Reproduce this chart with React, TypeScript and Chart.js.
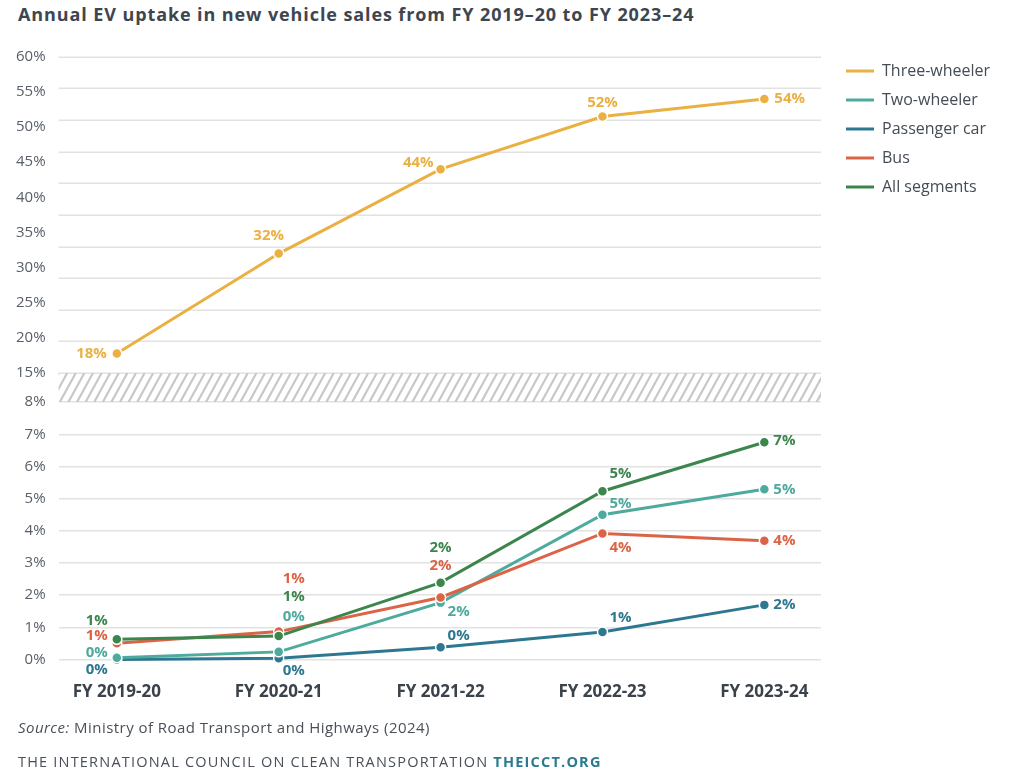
import React, { useEffect, useRef } from 'react';
import { Chart, registerables } from 'chart.js';

Chart.register(...registerables);

// ---------- data ----------
const categories = ['FY 2019-20', 'FY 2020-21', 'FY 2021-22', 'FY 2022-23', 'FY 2023-24'];
const seriesNames = ['Three-wheeler', 'Two-wheeler', 'Passenger car', 'Bus', 'All segments'];
const threeWheeler = [17.8, 32.0, 44.0, 51.5, 54.0];
const twoWheeler = [0.06, 0.24, 1.77, 4.5, 5.29];
const passengerCar = [0.0, 0.04, 0.38, 0.86, 1.7];
const bus = [0.51, 0.87, 1.93, 3.92, 3.69];
const allSegments = [0.63, 0.73, 2.39, 5.23, 6.75];
const upperTickValues = [15, 20, 25, 30, 35, 40, 45, 50, 55, 60];
const lowerTickValues = [0, 1, 2, 3, 4, 5, 6, 7, 8];

// ---------- styles ----------
const FONT = '"Open Sans", "DejaVu Sans", sans-serif';
const colors = ['#EAB042', '#4DAA9C', '#2D7890', '#DC6446', '#3C864E'];
const drawOrder = [5, 3, 4, 2, 1];
const GRID = '#e2e2e2';
const AXIS_TEXT = '#596069';
const UPPER_GRID_INTERVALS = 10;

// label placement per series per point: [dx, dy, align]
type Place = [number, number, CanvasTextAlign];
const placements: Place[][] = [
  [[-10, 0, 'right'], [-10, -18, 'center'], [-7, -6, 'right'], [0, -14, 'center'], [10, 0, 'left']],
  [[-9, -5, 'right'], [4, -35, 'left'], [7, 9, 'left'], [7, -11, 'left'], [9, 0, 'left']],
  [[-9, 10, 'right'], [4, 12, 'left'], [7, -12, 'left'], [7, -14, 'left'], [9, 0, 'left']],
  [[-9, -7, 'right'], [4, -53, 'left'], [0, -32, 'center'], [7, 14, 'left'], [9, 0, 'left']],
  [[-9, -19, 'right'], [4, -39, 'left'], [0, -35, 'center'], [7, -18, 'left'], [9, -2, 'left']],
];

const bandPlugin = {
  id: 'bandPlugin',
  beforeDatasetsDraw(chart: any) {
    const { ctx, chartArea, scales } = chart;
    const top = scales.yTop;
    const gap = scales.yGap;
    ctx.save();
    // upper panel grid lines
    ctx.strokeStyle = GRID;
    ctx.lineWidth = 1.5;
    const min = top.min;
    const max = top.max;
    for (let k = 0; k <= UPPER_GRID_INTERVALS; k++) {
      const v = min + ((max - min) * k) / UPPER_GRID_INTERVALS;
      const y = Math.round(top.getPixelForValue(v)) + 0.25;
      ctx.beginPath();
      ctx.moveTo(chartArea.left, y);
      ctx.lineTo(chartArea.right, y);
      ctx.stroke();
    }
    // hatched break band
    const y0 = gap.top;
    const y1 = gap.bottom;
    ctx.beginPath();
    ctx.rect(chartArea.left, y0, chartArea.right - chartArea.left, y1 - y0);
    ctx.clip();
    ctx.strokeStyle = '#c8c8c8';
    ctx.lineWidth = 2.2;
    const run = (y1 - y0) * 0.55;
    ctx.beginPath();
    for (let x = chartArea.left - run; x < chartArea.right + run; x += 8.6) {
      ctx.moveTo(x, y1);
      ctx.lineTo(x + run, y0);
    }
    ctx.stroke();
    ctx.restore();
  },
};

const labelPlugin = {
  id: 'labelPlugin',
  afterDatasetsDraw(chart: any) {
    const { ctx } = chart;
    ctx.save();
    ctx.font = `bold 15px ${FONT}`;
    ctx.textBaseline = 'middle';
    chart.data.datasets.forEach((ds: any, di: number) => {
      const meta = chart.getDatasetMeta(di);
      meta.data.forEach((pt: any, i: number) => {
        const [dx, dy, align] = placements[di][i];
        const v = ds.data[i].y;
        ctx.fillStyle = ds.borderColor;
        ctx.textAlign = align;
        ctx.fillText(`${Math.round(v)}%`, pt.x + dx, pt.y + dy);
      });
    });
    ctx.restore();
  },
};

export default function App() {
  const ref = useRef<HTMLCanvasElement | null>(null);

  useEffect(() => {
    if (!ref.current) return;
    const series = [threeWheeler, twoWheeler, passengerCar, bus, allSegments];
    const datasets = series.map((vals, si) => ({
      label: seriesNames[si],
      data: vals.map((y, i) => ({ x: i, y })),
      xAxisID: 'x',
      yAxisID: si === 0 ? 'yTop' : 'yBot',
      borderColor: colors[si],
      backgroundColor: colors[si],
      pointBackgroundColor: colors[si],
      pointBorderColor: '#ffffff',
      pointBorderWidth: 1.5,
      pointRadius: 5,
      borderWidth: 3,
      tension: 0,
      clip: false as const,
      order: drawOrder[si],
    }));

    const chart = new Chart(ref.current, {
      type: 'line',
      data: { datasets },
      plugins: [bandPlugin, labelPlugin],
      options: {
        animation: false,
        responsive: true,
        maintainAspectRatio: false,
        layout: { padding: { top: 50, left: 3, right: 25, bottom: 57 } },
        plugins: {
          tooltip: { enabled: false },
          title: { display: true, text: '', padding: 0, font: { size: 6.7, lineHeight: 1 } },
          legend: {
            position: 'right',
            align: 'start',
            labels: {
              boxWidth: 28,
              boxHeight: 3,
              padding: 13,
              color: '#444c55',
              font: { size: 16, family: FONT },
              generateLabels: (c: any) =>
                c.data.datasets.map((ds: any, i: number) => ({
                  text: ds.label,
                  fillStyle: ds.borderColor,
                  strokeStyle: ds.borderColor,
                  fontColor: '#444c55',
                  lineWidth: 0,
                  datasetIndex: i,
                  hidden: false,
                })),
            },
          },
        },
        scales: {
          x: {
            type: 'linear',
            min: -0.36,
            max: 4.35,
            afterBuildTicks: (s: any) => {
              s.ticks = categories.map((_, i) => ({ value: i }));
            },
            ticks: {
              autoSkip: false,
              maxRotation: 0,
              padding: 22,
              color: '#3b424a',
              font: { size: 17, weight: 'bold', family: FONT },
              callback: (v: any) => categories[v as number] ?? '',
            },
            grid: { display: false, drawTicks: false },
            border: { display: false },
          },
          yBot: {
            type: 'linear',
            position: 'left',
            stack: 'v',
            stackWeight: 257.7,
            min: 0,
            max: 8,
            afterBuildTicks: (s: any) => {
              s.ticks = lowerTickValues.map((v) => ({ value: v }));
            },
            ticks: {
              autoSkip: false,
              padding: 13,
              color: AXIS_TEXT,
              font: { size: 15, family: FONT },
              callback: (v: any) => `${v}%`,
            },
            grid: { color: GRID, lineWidth: 1.5, drawTicks: false },
            border: { display: false },
          },
          yGap: {
            type: 'linear',
            position: 'left',
            display: false,
            stack: 'v',
            stackWeight: 29,
            min: 8,
            max: 15,
          },
          yTop: {
            type: 'linear',
            position: 'left',
            stack: 'v',
            stackWeight: 316.6,
            min: 15,
            max: 60,
            afterBuildTicks: (s: any) => {
              s.ticks = upperTickValues.map((v) => ({ value: v }));
            },
            ticks: {
              autoSkip: false,
              padding: 13,
              color: AXIS_TEXT,
              font: { size: 15, family: FONT },
              callback: (v: any) => `${v}%`,
            },
            grid: { display: false, drawTicks: false },
            border: { display: false },
          },
          yPad: {
            type: 'linear',
            position: 'right',
            display: false,
            afterFit: (s: any) => {
              s.width = 12;
            },
          },
        },
      } as any,
    });
    return () => chart.destroy();
  }, []);

  return (
    <div
      style={{
        position: 'absolute',
        left: 0,
        top: 0,
        width: 1024,
        height: 781,
        background: '#ffffff',
        fontFamily: FONT,
      }}
    >
      <div
        style={{
          position: 'absolute',
          left: 18,
          top: 4,
          fontSize: 18,
          lineHeight: '20px',
          fontWeight: 700,
          letterSpacing: 0.9,
          color: '#3d4650',
          whiteSpace: 'nowrap',
        }}
      >
        Annual EV uptake in new vehicle sales from FY 2019–20 to FY 2023–24
      </div>
      <div style={{ position: 'absolute', left: 0, top: 0, width: 1024, height: 781 }}>
        <canvas ref={ref} />
      </div>
      <div
        style={{
          position: 'absolute',
          left: 18,
          top: 718,
          fontSize: 15,
          lineHeight: '18px',
          letterSpacing: 0.45,
          color: '#4a5058',
          whiteSpace: 'nowrap',
        }}
      >
        <i>Source:</i> Ministry of Road Transport and Highways (2024)
      </div>
      <div
        style={{
          position: 'absolute',
          left: 18,
          top: 753,
          fontSize: 14.5,
          lineHeight: '18px',
          color: '#4a5058',
          letterSpacing: 1.2,
          whiteSpace: 'nowrap',
        }}
      >
        THE INTERNATIONAL COUNCIL ON CLEAN TRANSPORTATION{' '}
        <b style={{ color: '#2B7A8E' }}>THEICCT.ORG</b>
      </div>
    </div>
  );
}
